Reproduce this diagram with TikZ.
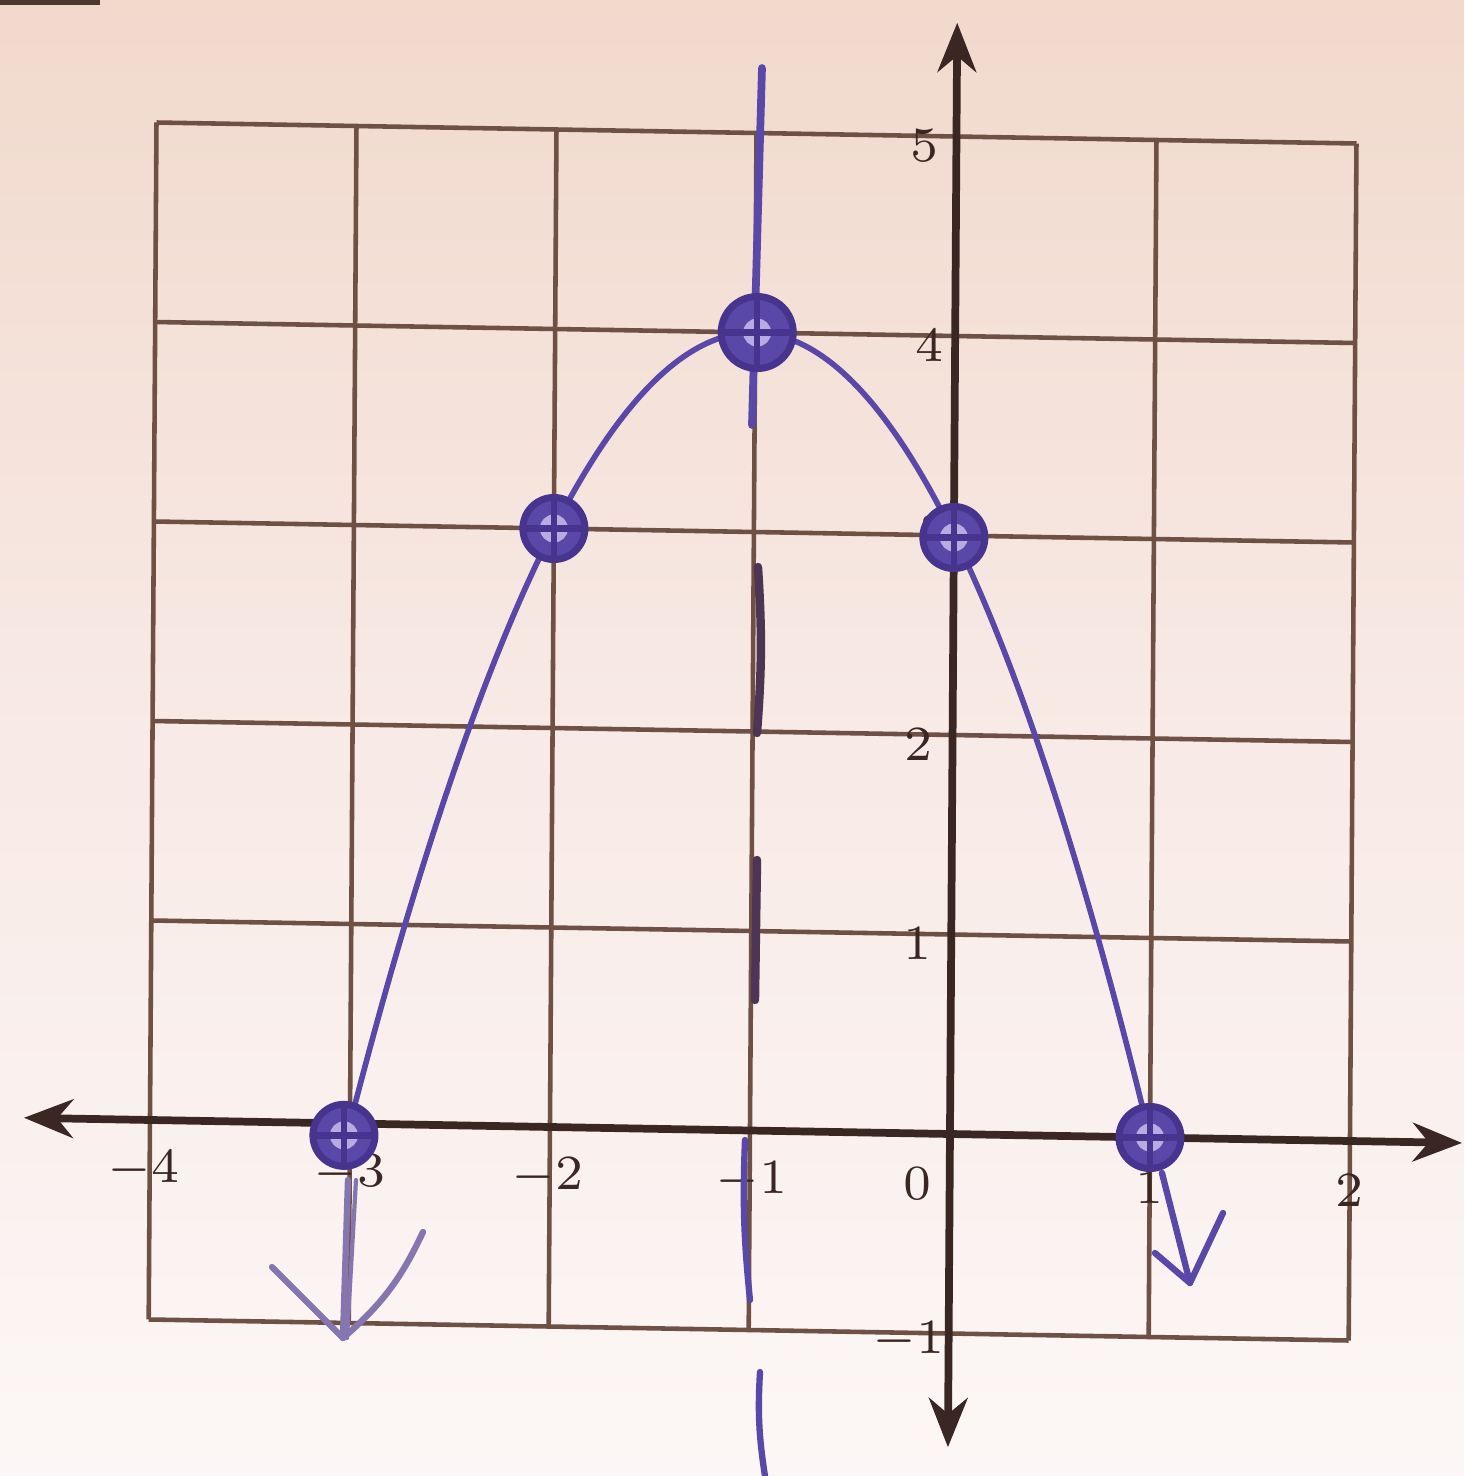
\documentclass[tikz,border=0pt]{standalone}
\usetikzlibrary{arrows.meta}
\definecolor{paperTop}{HTML}{F1D9CC}
\definecolor{paperMid}{HTML}{F8EAE6}
\definecolor{paperBot}{HTML}{FCF7F6}
\definecolor{gridbrown}{HTML}{6E5045}
\definecolor{axisbrown}{HTML}{3A2622}
\definecolor{ink}{HTML}{5A48A8}
\definecolor{inkdark}{HTML}{47348E}
\definecolor{inklight}{HTML}{B7ABE2}
\definecolor{inkfade}{HTML}{8676B0}
\definecolor{inkgrey}{HTML}{4E3556}
\begin{document}
\begin{tikzpicture}[
  paper/.style={cm={1,-0.0175,0.0065,0.9975,(0,0)}},
  gridline/.style={draw=gridbrown, line width=0.65pt},
  axisline/.style={draw=axisbrown, line width=1.1pt, {Stealth[length=7pt,width=5.5pt]}-{Stealth[length=7pt,width=5.5pt]}},
  ticklabel/.style={text=axisbrown, font=\fontsize{7}{8}\selectfont, inner sep=0pt},
  curve/.style={draw=ink, line width=0.8pt},
  symline/.style={draw=ink, line width=1.1pt, line cap=round},
  symdark/.style={draw=inkgrey, line width=1.2pt, line cap=round},
  handarrow/.style={draw=inkfade, line width=0.9pt, line cap=round, line join=round},
  ptmark/.style={circle, minimum size=0.31cm, inner sep=0pt, fill=ink, draw=inkdark, line width=1pt,
    path picture={
      \fill[inklight] (path picture bounding box.center) circle (0.07);
      \draw[inkdark, line width=0.9pt] (path picture bounding box.north) -- (path picture bounding box.south)
        (path picture bounding box.west) -- (path picture bounding box.east);}},
]
\useasboundingbox (-4.75,-1.71) rectangle (2.57,5.67);
\shade[top color=paperTop, bottom color=paperBot, middle color=paperMid] (-4.75,-1.71) rectangle (2.57,5.67);
\fill[gridbrown!70!black] (-4.75,5.645) rectangle (-4.25,5.67);

\begin{scope}[paper]
  % grid
  \foreach \gx in {-4,...,2} \draw[gridline] (\gx,-1) -- (\gx,5);
  \foreach \gy in {-1,...,5} \draw[gridline] (-4,\gy) -- (2,\gy);
  % axes
  \coordinate (xl) at (-4.63,0);
  \coordinate (xr) at (2.56,0);
  \coordinate (yb) at (0,-1.57);
  \coordinate (yt) at (0,5.57);
  \draw[axisline] (xl) -- (xr);
  \draw[axisline] (yb) -- (yt);
  % tick labels
  \node[ticklabel] (lxm4) at (-4.03,-0.25) {$-4$};
  \node[ticklabel] (lxm3) at (-3.0,-0.25) {$-3$};
  \node[ticklabel] (lxm2) at (-2.01,-0.25) {$-2$};
  \node[ticklabel] (lxm1) at (-0.99,-0.25) {$-1$};
  \node[ticklabel] (lx0) at (-0.16,-0.25) {$0$};
  \node[ticklabel] (lx1) at (1.0,-0.25) {$1$};
  \node[ticklabel] (lx2) at (2.0,-0.25) {$2$};
  \node[ticklabel] (ly5) at (-0.16,4.95) {$5$};
  \node[ticklabel] (ly4) at (-0.13,3.95) {$4$};
  \node[ticklabel] (ly3) at (-0.1,3.02) {$3$};
  \node[ticklabel] (ly2) at (-0.17,1.95) {$2$};
  \node[ticklabel] (ly1) at (-0.17,0.95) {$1$};
  \node[ticklabel] (lym1) at (-0.2,-1.04) {$-1$};
  % parabola
  \draw[curve] plot[domain=-3:1, samples=80, smooth] (\x, {4-(\x+1)^2});
\end{scope}

% axis of symmetry, hand drawn
\coordinate (s1a) at (-0.94,5.33);
\coordinate (s1b) at (-0.99,3.545);
\coordinate (s2a) at (-0.96,2.835);
\coordinate (s2b) at (-0.965,2.005);
\coordinate (s3a) at (-0.965,1.37);
\coordinate (s3b) at (-0.975,0.67);
\coordinate (s4a) at (-1.025,-0.03);
\coordinate (s4b) at (-1.0,-0.83);
\coordinate (s5a) at (-0.95,-1.19);
\coordinate (s5b) at (-0.925,-1.71);
\draw[symline] (s1a) -- (s1b);
\draw[symdark] (s2a) to[bend left=4] (s2b);
\draw[symdark] (s3a) -- (s3b);
\draw[symline, line width=0.9pt] (s4a) to[bend right=4] (s4b);
\draw[symline, line width=0.9pt] (s5a) to[bend right=6] (s5b);

% hand-drawn down arrows
\coordinate (aTop) at (-3.01,-0.23);
\coordinate (aTip) at (-3.035,-1.02);
\coordinate (aL) at (-3.39,-0.665);
\coordinate (aR) at (-2.635,-0.49);
\draw[handarrow] (aTop) -- (aTip);
\draw[handarrow, line width=0.6pt] ([xshift=0.04cm]aTop) -- ([xshift=0.02cm]aTip);
\draw[handarrow] (aL) -- (aTip) to[bend right=12] (aR);
\coordinate (bTop) at (1.06,-0.195);
\coordinate (bTip) at (1.2,-0.745);
\coordinate (bL) at (1.025,-0.595);
\coordinate (bR) at (1.365,-0.395);
\draw[handarrow, draw=ink] (bTop) -- (bTip);
\draw[handarrow, draw=ink] (bL) -- (bTip) -- (bR);

% plotted points
\begin{scope}[paper]
  \node[ptmark] (pA) at (-3.03,-0.06) {};
  \node[ptmark] (pB) at (-2,3) {};
  \node[ptmark, minimum size=0.36cm] (pC) at (-0.99,4.0) {};
  \node[ptmark] (pD) at (0,2.99) {};
  \node[ptmark] (pE) at (1,0) {};
\end{scope}
\end{tikzpicture}
\end{document}
